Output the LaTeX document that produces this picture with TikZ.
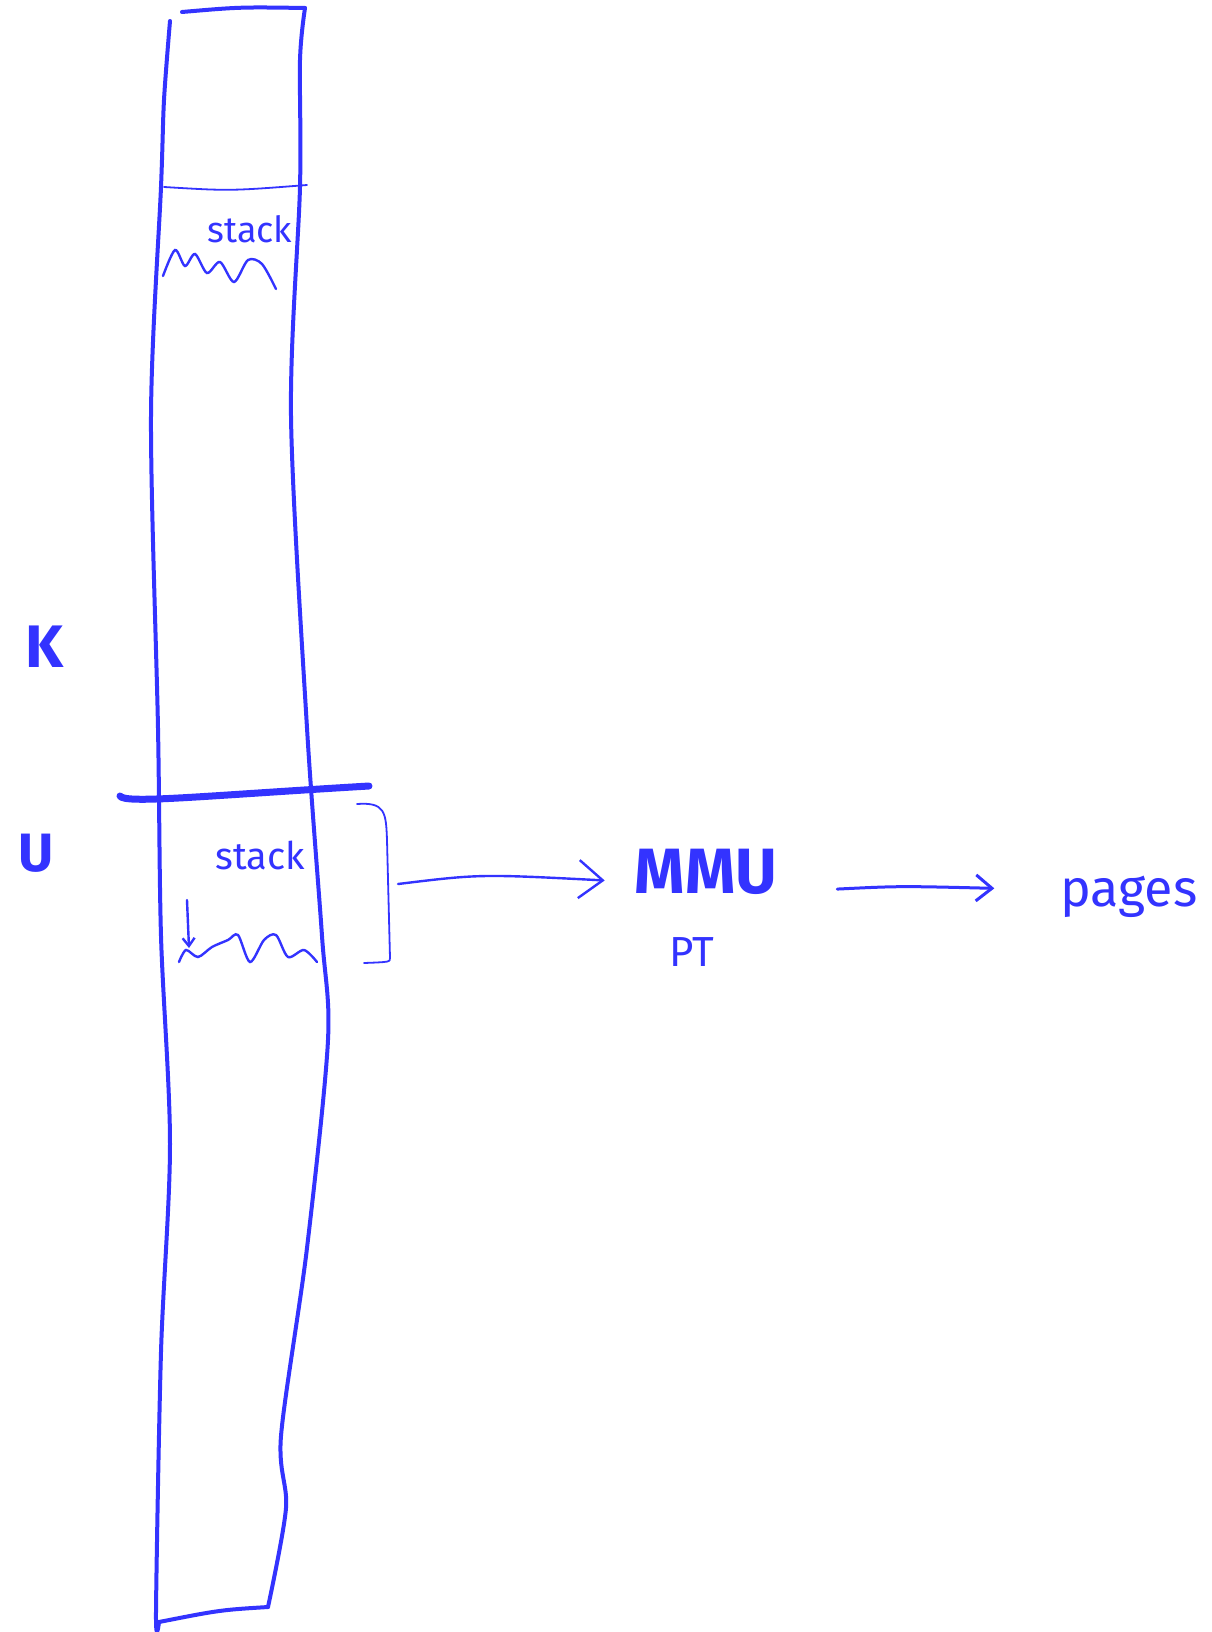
\documentclass[tikz,border=0pt]{standalone}
\usepackage{fontspec}
\setmainfont{Fira Sans}
\usetikzlibrary{arrows.meta}
\definecolor{ink}{RGB}{51,51,255}
\tikzset{
  pen/.style={draw=ink, line width=4pt, line cap=round, line join=round},
  thinpen/.style={draw=ink, line width=1.8pt, line cap=round, line join=round},
  label/.style={text=ink, inner sep=0pt},
  conn/.style={draw=ink, line width=2.4pt, line cap=round, -{Straight Barb[length=24pt,width=38pt,line width=2.4pt]}},
  conn2/.style={draw=ink, line width=3pt, line cap=round, -{Straight Barb[length=16pt,width=26pt,line width=3pt]}}
}
\begin{document}
\begin{tikzpicture}[x=1pt,y=-1pt]
\useasboundingbox (0,0) rectangle (1211,1632);
% column
\draw[pen] plot[smooth] coordinates {(170,21) (164,100) (161,187) (151,416) (158,728) (161,936) (170,1144) (161,1352) (156,1612) (159,1622)};
\draw[pen] plot[smooth] coordinates {(305,8) (300,60) (300,187) (291,416) (307,728) (322,936) (328,1040) (307,1248) (281,1436) (286,1508) (268,1607)};
\draw[pen] (182,12) .. controls (240,7) .. (305,8);
\draw[pen] (159,1622) .. controls (220,1610) .. (268,1607);
% upper stack
\draw[thinpen] (164,187) .. controls (230,191) .. (307,185);
\node[label, font=\fontsize{36}{36}\selectfont] (stack1) at (250,229) {stack};
\draw[draw=ink, line width=2.4pt, line cap=round] plot[smooth] coordinates {(163,276) (175,250) (185,266) (195,254) (207,273) (220,262) (234,282) (248,260) (262,264) (276,289)};
% divider
\draw[draw=ink, line width=7pt, line cap=round] (120,796) .. controls (125,804) and (200,796) .. (369,786);
\node[label, font=\bfseries\fontsize{60}{60}\selectfont] (K) at (44,647) {K};
\node[label, font=\bfseries\fontsize{54}{54}\selectfont] (U) at (36,853) {U};
% lower stack
\node[label, font=\fontsize{38}{38}\selectfont] (stack2) at (260,855) {stack};
\draw[draw=ink, line width=2.4pt, line cap=round, -{Straight Barb[length=8pt,width=12pt]}] (187,900) -- (189,948);
\draw[draw=ink, line width=2.4pt, line cap=round] plot[smooth] coordinates {(179,962) (186,950) (198,957) (212,947) (228,940) (238,935) (250,962) (264,940) (276,935) (288,957) (304,950) (317,962)};
% bracket
\draw[thinpen] (357,804) .. controls (385,802) and (386,812) .. (387,840) -- (390,958) .. controls (390,962) .. (364,963);
\coordinate (br) at (398,884);
% MMU, PT, pages
\node[label, font=\bfseries\fontsize{64}{64}\selectfont] (mmu) at (706,872) {MMU};
\node[label, font=\fontsize{42}{42}\selectfont] (pt) at (692,952) {PT};
\node[label, font=\fontsize{52}{52}\selectfont] (pages) at (1129,897) {pages};
\draw[conn, shorten >=30pt] (br) .. controls (480,874) .. ([yshift=-10pt]mmu.west);
\draw[conn2, shorten <=60pt, shorten >=66pt] ([yshift=-20pt]mmu.east) .. controls (900,886) .. ([yshift=7pt]pages.west);
\end{tikzpicture}
\end{document}
